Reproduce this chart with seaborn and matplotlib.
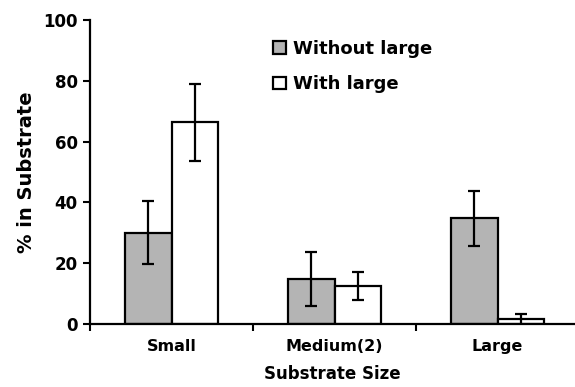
import seaborn as sns
import pandas as pd
import matplotlib.pyplot as plt
import numpy as np

categories = ["Small", "Medium(2)", "Large"]
groups = ["Without large", "With large"]
without_large = [30, 14.7, 34.8]
with_large = [66.4, 12.5, 1.5]
without_err = [10.3, 8.9, 9.1]
with_err = [12.7, 4.6, 1.8]

colors = {"Without large": "#b4b4b4", "With large": "#ffffff"}

df = pd.DataFrame({
    "size": categories * 2,
    "group": [groups[0]] * 3 + [groups[1]] * 3,
    "pct": without_large + with_large,
})
errs = {groups[0]: without_err, groups[1]: with_err}

sns.set_style("ticks")
plt.rcParams["font.family"] = ["DejaVu Sans"]
plt.rcParams["font.weight"] = "bold"
for k in ["text.color", "axes.labelcolor", "xtick.color", "ytick.color", "axes.edgecolor"]:
    plt.rcParams[k] = "black"

fig = plt.figure(figsize=(5.75, 3.87), dpi=100)
ax = fig.add_axes([90 / 575, 63 / 387, 485 / 575, 304 / 387])

sns.barplot(ax=ax, data=df, x="size", y="pct", hue="group", order=categories,
            hue_order=groups, palette=colors, width=0.57, errorbar=None,
            edgecolor="black", linewidth=1.6, saturation=1)

for cont, g in zip(ax.containers, groups):
    xs = [b.get_x() + b.get_width() / 2 for b in cont]
    ys = [b.get_height() for b in cont]
    ax.errorbar(xs, ys, yerr=errs[g], fmt="none", ecolor="black",
                elinewidth=1.6, capsize=4.5, capthick=1.6)

ax.set_xlim(-0.5, 2.475)
ax.set_ylim(0, 100)
ax.set_yticks(range(0, 101, 20))
ax.set_xticks([-0.5, 0.5, 1.5], minor=True)
ax.tick_params(axis="x", which="major", length=0, pad=11, labelsize=11.5)
ax.tick_params(axis="x", which="minor", length=5, width=1.5, direction="out")
ax.tick_params(axis="y", length=5, width=1.5, direction="out", pad=4, labelsize=12)
for lab in ax.get_xticklabels() + ax.get_yticklabels():
    lab.set_fontweight("bold")

for s in ["left", "bottom"]:
    ax.spines[s].set_linewidth(1.6)
sns.despine(ax=ax)

ax.set_xlabel("Substrate Size", fontsize=12, fontweight="bold", labelpad=8)
ax.set_ylabel("% in Substrate", fontsize=14, fontweight="bold", labelpad=5)

ax.legend(loc="upper left", bbox_to_anchor=(183 / 485, 1 - 20 / 304),
          frameon=False, fontsize=13, handlelength=0.7, handleheight=0.7,
          handletextpad=0.4, labelspacing=0.95, borderpad=0, borderaxespad=0)

fig.savefig("out.png", dpi=100)
